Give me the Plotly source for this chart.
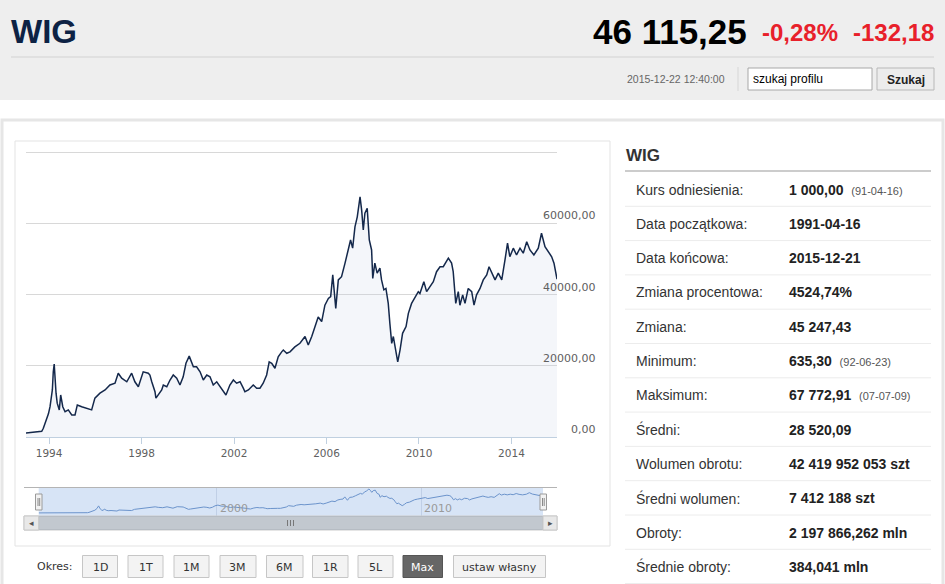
import plotly.graph_objects as go

W, H = 945, 584

# Notowania WIG (rok dziesiętny, wartość)
years = [
    1991.29, 1991.50, 1991.70, 1991.90, 1992.10, 1992.30, 1992.47, 1992.65, 1992.85,
    1993.00, 1993.30, 1993.52, 1993.68, 1993.75, 1993.90, 1993.97, 1994.04, 1994.14,
    1994.18, 1994.22, 1994.30, 1994.35, 1994.44, 1994.50, 1994.59, 1994.69, 1994.83,
    1994.98, 1995.12, 1995.22, 1995.41, 1995.63, 1995.84, 1995.98, 1996.20, 1996.42,
    1996.63, 1996.85, 1996.99, 1997.14, 1997.36, 1997.57, 1997.71, 1997.86, 1998.07,
    1998.29, 1998.36, 1998.44, 1998.58, 1998.62, 1998.72, 1998.87, 1998.94, 1999.09,
    1999.23, 1999.37, 1999.52, 1999.66, 1999.80, 1999.92, 2000.06, 2000.17, 2000.24,
    2000.38, 2000.53, 2000.67, 2000.82, 2000.96, 2001.10, 2001.25, 2001.39, 2001.53,
    2001.65, 2001.82, 2001.97, 2002.11, 2002.26, 2002.40, 2002.47, 2002.62, 2002.83,
    2002.98, 2003.12, 2003.26, 2003.41, 2003.52, 2003.63, 2003.77, 2003.91, 2004.06,
    2004.13, 2004.28, 2004.42, 2004.63, 2004.85, 2005.07, 2005.21, 2005.36, 2005.50,
    2005.64, 2005.79, 2005.93, 2006.08, 2006.18, 2006.27, 2006.32, 2006.40, 2006.51,
    2006.65, 2006.80, 2006.94, 2007.04, 2007.13, 2007.23, 2007.33, 2007.45, 2007.52,
    2007.59, 2007.66, 2007.76, 2007.85, 2007.95, 2008.00, 2008.09, 2008.19, 2008.31,
    2008.38, 2008.48, 2008.57, 2008.67, 2008.74, 2008.82, 2008.89, 2008.96, 2009.08,
    2009.18, 2009.29, 2009.44, 2009.54, 2009.68, 2009.83, 2009.97, 2010.04, 2010.21,
    2010.33, 2010.47, 2010.62, 2010.76, 2010.91, 2011.05, 2011.17, 2011.27, 2011.41,
    2011.48, 2011.59, 2011.70, 2011.77, 2011.89, 2011.99, 2012.13, 2012.28, 2012.38,
    2012.49, 2012.64, 2012.78, 2012.93, 2013.03, 2013.14, 2013.29, 2013.43, 2013.58,
    2013.72, 2013.83, 2013.93, 2014.08, 2014.22, 2014.37, 2014.51, 2014.66, 2014.80,
    2014.97, 2015.16, 2015.30, 2015.45, 2015.59, 2015.74, 2015.84, 2015.97,
]
values = [
    1000, 960, 1150, 1000, 880, 750, 640, 850, 1000,
    1040, 1150, 1300, 1600, 2440, 5250, 6500, 8500, 13200,
    18300, 20500, 12300, 9500, 7600, 11800, 8500, 7100, 7600,
    6200, 6200, 9000, 8500, 8000, 7600, 10900, 12300, 13200,
    14600, 15100, 17900, 16500, 15500, 17900, 15500, 14100, 18300,
    17900, 17400, 15500, 12700, 10900, 11800, 13200, 14600, 14100,
    16000, 17400, 16500, 14600, 16900, 20700, 22700, 20700, 19700,
    19700, 18300, 16000, 17400, 16900, 14600, 15500, 14100, 12700,
    11800, 14600, 16000, 15100, 15500, 13700, 12700, 13200, 14600,
    13700, 13700, 15100, 17400, 21100, 20700, 19300, 22500, 23900,
    24400, 23500, 23900, 25300, 26300, 28200, 25800, 28200, 31000,
    33700, 32400, 37000, 38900, 39400, 45500, 42200, 36100, 44100,
    45000, 48800, 52500, 55300, 53000, 59000, 61800, 67400, 63700,
    58100, 62800, 64200, 55300, 52500, 44500, 48800, 46000, 47400,
    44100, 41300, 41700, 37500, 31900, 26300, 28200, 25300, 21100,
    24400, 29100, 31000, 34700, 37500, 39400, 40800, 40300, 43600,
    40800, 42200, 43600, 46400, 47800, 47800, 49200, 50200, 48800,
    46400, 37500, 40800, 37000, 39900, 37500, 41700, 40800, 37000,
    39900, 41700, 44100, 45500, 47800, 46000, 44100, 46000, 44100,
    49700, 54400, 50600, 53000, 51100, 53000, 51600, 54800, 52500,
    51100, 53000, 57200, 53400, 52000, 50600, 48800, 44300,
]

x_ticks = [1994, 1998, 2002, 2006, 2010, 2014]
y_grid = [0, 20000, 40000, 60000, 80000]
y_labels = ["0,00", "20000,00", "40000,00", "60000,00"]
nav_ticks = [2000, 2010]

stat_labels = [
    "Kurs odniesienia:", "Data początkowa:", "Data końcowa:", "Zmiana procentowa:",
    "Zmiana:", "Minimum:", "Maksimum:", "Średni:", "Wolumen obrotu:",
    "Średni wolumen:", "Obroty:", "Średnie obroty:",
]
stat_values = [
    "1 000,00", "1991-04-16", "2015-12-21", "4524,74%", "45 247,43", "635,30",
    "67 772,91", "28 520,09", "42 419 952 053 szt", "7 412 188 szt",
    "2 197 866,262 mln", "384,041 mln",
]
stat_notes = [
    "(91-04-16)", "", "", "", "", "(92-06-23)", "(07-07-09)", "", "", "", "", "",
]

periods = ["1D", "1T", "1M", "3M", "6M", "1R", "5L", "Max", "ustaw własny"]
active_period = "Max"

ARIAL = "Liberation Sans, Arial, sans-serif"
VERD = "DejaVu Sans, Verdana, sans-serif"


def px(x):
    return x / W


def py(y):
    return 1 - y / H


shapes = []
ann = []


def rect(x0, y0, x1, y1, fill, line="rgba(0,0,0,0)", lw=0, layer="below"):
    shapes.append(dict(type="rect", xref="paper", yref="paper",
                       x0=px(x0), x1=px(x1), y0=py(y1), y1=py(y0),
                       fillcolor=fill, line=dict(color=line, width=lw), layer=layer))


def line(x0, y0, x1, y1, color, lw=1, layer="below"):
    shapes.append(dict(type="line", xref="paper", yref="paper",
                       x0=px(x0), x1=px(x1), y0=py(y0), y1=py(y1),
                       line=dict(color=color, width=lw), layer=layer))


def text(x, y, s, size, color="#333", xa="left", ya="middle", family=ARIAL):
    ann.append(dict(xref="paper", yref="paper", x=px(x), y=py(y), text=s,
                    showarrow=False, xanchor=xa, yanchor=ya,
                    font=dict(size=size, color=color, family=family)))


# nagłówek strony
rect(0, 0, 945, 100, "#eeeeee")
line(11, 57, 934, 57, "#d2d2d2")
text(9, 31, "<b>WIG</b>", 33, "#0d2244")
text(749, 31, "<b>46 115,25</b>", 35, "#000000", xa="right")
text(760, 33, "<b>-0,28%</b>", 24, "#e8202a")
text(936, 33, "<b>-132,18</b>", 24, "#e8202a", xa="right")
text(727, 79, "2015-12-22 12:40:00", 10.5, "#666666", xa="right")
line(738, 67, 738, 91, "#d6d6d6")
rect(748, 68, 872, 90, "#ffffff", "#a8a8a8", 1)
text(751, 79, "szukaj profilu", 12, "#000000")
rect(877, 68, 934, 90, "#ececec", "#b8b8b8", 1)
text(905.5, 79.5, "<b>Szukaj</b>", 12, "#222222", xa="center")

# ramki treści
rect(2, 120, 943, 600, "#ffffff", "#e6e6e6", 3)
rect(15, 141, 610, 546, "#ffffff", "#e3e3e3", 1)

# nawigator
rect(38.7, 488, 543, 516, "#d7e4f6")
line(24, 487.5, 557, 487.5, "#b4b4b4", 1, "above")
rect(24, 516, 557, 530, "#eeeeee", "#cccccc", 1, "above")
rect(38.7, 516.5, 543, 529.5, "#c2c8cf", "#b6bcc3", 1, "above")
for gx in (287.5, 290.5, 293.5):
    line(gx, 520, gx, 526, "#777777", 1, "above")
rect(24, 516, 38.7, 530, "#e8e8e8", "#c8c8c8", 1, "above")
rect(543, 516, 557, 530, "#e8e8e8", "#c8c8c8", 1, "above")
text(31.3, 523, "◂", 9, "#555555", xa="center")
text(550, 523, "▸", 9, "#555555", xa="center")
for hx in (35.5, 540):
    rect(hx, 494, hx + 6.5, 510, "#f2f2f2", "#9a9a9a", 1, "above")
    line(hx + 2.5, 498, hx + 2.5, 506, "#8a8a8a", 1, "above")
    line(hx + 4.2, 498, hx + 4.2, 506, "#8a8a8a", 1, "above")
for t in nav_ticks:
    ann.append(dict(xref="x2", yref="paper", x=t, y=py(508), text=str(t),
                    showarrow=False, xanchor="left", yanchor="middle", xshift=1,
                    font=dict(size=11, color="#9a9a9a", family=VERD)))

# etykiety osi Y nad liniami siatki
for v, lab in zip(y_grid, y_labels):
    ann.append(dict(xref="paper", yref="y", x=px(598), y=v, text=lab,
                    showarrow=False, xanchor="right", yanchor="bottom", yshift=-1,
                    font=dict(size=11, color="#606060", family=VERD)))

# panel statystyk
text(624, 155, "<b>WIG</b>", 17, "#333333")
line(625, 171, 931, 171, "#cccccc", 2)
for i, (lab, val, note) in enumerate(zip(stat_labels, stat_values, stat_notes)):
    yc = 189.5 + 34.3 * i
    text(634, yc, lab, 14, "#333333")
    s = "<b>" + val + "</b>"
    if note:
        s += "&nbsp;&nbsp;<span style='font-size:11px;color:#555555'>" + note + "</span>"
    text(787, yc, s, 14, "#222222")
    line(625, yc + 16.8, 931, yc + 16.8, "#ececec")

# przyciski okresu
text(35, 566.5, "Okres:", 11, "#333333", family=VERD)
btn_x = [(82.5, 117.5), (128, 163), (174, 209), (220, 256), (266.5, 303),
         (312.5, 348), (358, 393), (403, 442.5), (453.5, 545.5)]
for (bx0, bx1), p in zip(btn_x, periods):
    if p == active_period:
        rect(bx0, 555.5, bx1, 577.5, "#666666", "#555555", 1, "above")
        col = "#ffffff"
    else:
        rect(bx0, 555.5, bx1, 577.5, "#f3f3f3", "#c6c6c6", 1, "above")
        col = "#333333"
    text((bx0 + bx1) / 2, 567, p, 11, col, xa="center", family=VERD)

fig = go.Figure()
fig.add_trace(go.Scatter(
    x=years, y=values, mode="lines",
    line=dict(color="#14284b", width=1.5),
    fill="tozeroy", fillcolor="rgba(200,212,228,0.2)",
    hoverinfo="skip", xaxis="x", yaxis="y",
))
fig.add_trace(go.Scatter(
    x=years, y=values, mode="lines",
    line=dict(color="#6b93cb", width=1),
    hoverinfo="skip", xaxis="x2", yaxis="y2",
))

fig.update_layout(
    width=W, height=H,
    margin=dict(l=0, r=0, t=0, b=0),
    paper_bgcolor="white",
    plot_bgcolor="rgba(0,0,0,0)",
    showlegend=False,
    xaxis=dict(
        domain=[px(26), px(557)], range=[1993.0, 2015.97], anchor="y",
        tickvals=x_ticks, ticktext=[str(t) for t in x_ticks],
        ticks="outside", ticklen=6, tickcolor="#c0d0e0",
        showline=True, linecolor="#c0d0e0", linewidth=1,
        showgrid=False, zeroline=False,
        tickfont=dict(size=10.5, color="#606060", family=VERD),
    ),
    # górna granica nieco ponad 80000, żeby linia siatki 80000 była rysowana
    yaxis=dict(
        domain=[py(437), py(149)], range=[0, 80842], anchor="x",
        tickvals=y_grid, showticklabels=False, ticks="",
        gridcolor="#d8d8d8", zeroline=False,
    ),
    xaxis2=dict(
        domain=[px(38.7), px(543)], range=[1991.29, 2015.97], anchor="y2",
        tickvals=nav_ticks, showticklabels=False, ticks="",
        showgrid=True, gridcolor="#c0cfe6", zeroline=False,
    ),
    yaxis2=dict(
        domain=[py(516), py(488)], range=[-7600, 70200], anchor="x2",
        showticklabels=False, showgrid=False, zeroline=False, ticks="",
    ),
    shapes=shapes,
    annotations=ann,
)

# bez marginesu strony, żeby wykres zaczynał się w rogu okna
fig.write_html("out.html", config={"displayModeBar": False},
               post_script="document.body.style.margin='0';")
